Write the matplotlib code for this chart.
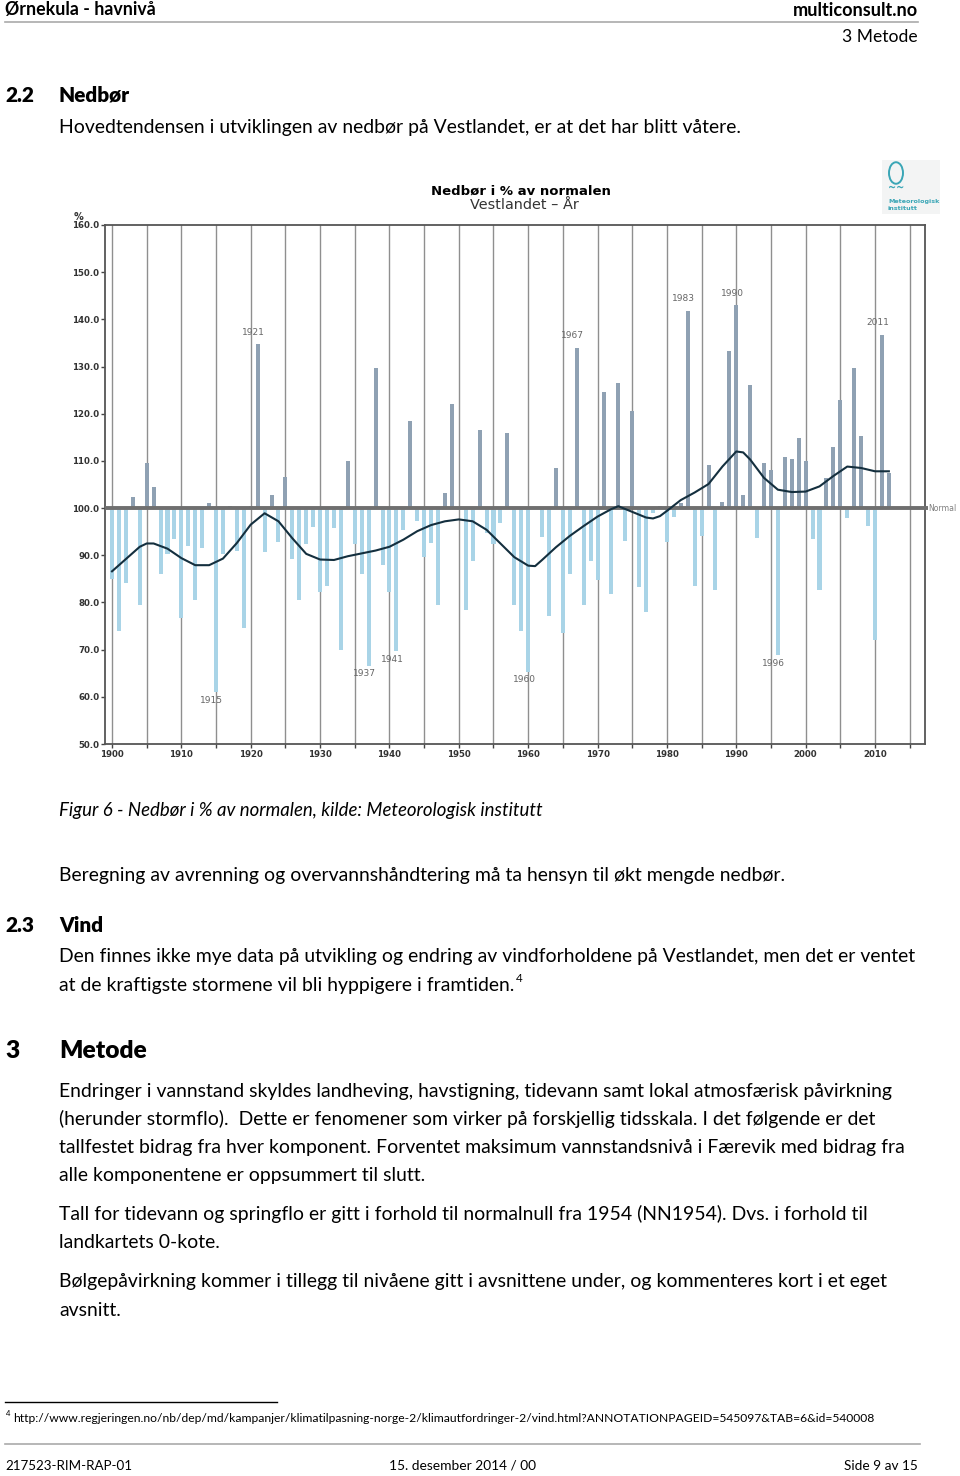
import matplotlib
matplotlib.use("Agg")
import matplotlib.pyplot as plt
from matplotlib.patches import Circle, Rectangle
from matplotlib.lines import Line2D

W, H = 960, 1476

# yearly precipitation, % of normal (Vestlandet)
years = list(range(1900, 2013))
precip = [
    85.0, 74.0, 84.2, 102.3, 79.5, 109.5, 104.5, 86.0, 90.2, 93.5,
    76.8, 92.0, 80.6, 91.6, 101.1, 61.0, 90.2, 100.4, 91.0, 74.6,
    100.4, 134.7, 90.6, 102.8, 92.8, 106.5, 89.3, 80.6, 92.3, 96.0,
    82.3, 83.5, 95.7, 70.0, 110.0, 92.3, 86.0, 66.6, 129.6, 88.0,
    82.3, 69.7, 95.3, 118.4, 97.2, 89.6, 92.5, 79.4, 103.3, 122.0,
    99.7, 78.4, 88.7, 116.6, 94.7, 92.4, 96.9, 116.0, 79.4, 73.9,
    65.3, 100.2, 93.9, 77.2, 108.6, 73.5, 86.0, 134.0, 79.4, 88.8,
    84.7, 124.5, 81.8, 126.6, 93.1, 120.6, 83.3, 78.0, 99.0, 100.5,
    92.9, 98.2, 101.0, 141.8, 83.5, 94.0, 109.1, 82.6, 101.3, 133.3,
    143.0, 102.7, 126.1, 93.6, 109.6, 108.0, 68.8, 110.8, 110.3, 114.8,
    110.0, 93.5, 82.6, 106.4, 113.0, 123.0, 97.8, 129.6, 115.3, 96.2,
    72.1, 136.7, 107.4,
]

# smoothed curve
trend_years = [1900, 1902, 1904, 1905, 1906, 1908, 1910, 1912, 1914, 1916,
               1918, 1920, 1922, 1924, 1926, 1928, 1930, 1932, 1934, 1936,
               1938, 1940, 1942, 1944, 1946, 1948, 1950, 1952, 1954, 1956,
               1958, 1960, 1961, 1962, 1964, 1966, 1968, 1970, 1972, 1973,
               1974, 1976, 1977, 1978, 1979, 1980, 1982, 1984, 1986, 1988,
               1990, 1991, 1992, 1994, 1996, 1998, 2000, 2002, 2004, 2006,
               2008, 2010, 2012]
trend_values = [86.6, 89.2, 91.8, 92.5, 92.5, 91.4, 89.4, 87.9, 87.9, 89.3,
                92.6, 96.5, 98.9, 97.2, 93.6, 90.3, 89.1, 89.0, 89.8, 90.4,
                91.0, 91.8, 93.3, 95.1, 96.4, 97.2, 97.6, 97.2, 95.4, 92.5,
                89.6, 87.8, 87.7, 89.0, 91.7, 94.1, 96.2, 98.2, 99.8, 100.4,
                99.8, 98.6, 98.0, 97.8, 98.3, 99.4, 101.7, 103.3, 105.1, 108.8,
                112.0, 111.8, 110.3, 106.4, 103.9, 103.4, 103.5, 104.6, 106.8, 108.8,
                108.5, 107.8, 107.8]

labelled_years = [1915, 1921, 1937, 1941, 1960, 1967, 1983, 1990, 1996, 2011]

y_ticks = list(range(50, 161, 10))
x_ticks = list(range(1900, 2016, 5))

fig = plt.figure(figsize=(9.6, 14.76), dpi=100)
fig.patch.set_facecolor('white')
renderer = fig.canvas.get_renderer()


def fx(x):
    return x / W


def fy(y):
    return 1 - y / H


def put(x, y, s, size=12, ha='left', weight='normal', style='normal',
        family='Lato', color='black', width=None):
    t = fig.text(fx(x), fy(y), s, ha=ha, va='center', fontsize=size,
                 fontweight=weight, fontstyle=style, family=family, color=color)
    if width:
        w = t.get_window_extent(renderer).width
        t.set_fontsize(size * width / w)
    return t


def hline(x0, x1, y, color='#999999', lw=1.0):
    fig.add_artist(Line2D([fx(x0), fx(x1)], [fy(y), fy(y)], color=color, lw=lw))


# page header
put(5, 10, 'Ørnekula - havnivå', weight='bold', width=149)
put(918, 10, 'multiconsult.no', weight='bold', ha='right', width=124)
hline(5, 918, 22, color='#aaaaaa', lw=1.2)
put(918, 37, '3 Metode', ha='right', width=75)

# body text size from a reference line
ref = put(59, 957, 'Den finnes ikke mye data på utvikling og endring av vindforholdene på Vestlandet, men det er ventet', width=853)
body = ref.get_fontsize()

h2 = put(59, 95, 'Nedbør', weight='heavy', width=71).get_fontsize()
put(5, 95, '2.2', weight='heavy', size=h2)
put(59, 127, 'Hovedtendensen i utviklingen av nedbør på Vestlandet, er at det har blitt våtere.', size=body)

# ---- chart ----
ax = fig.add_axes([fx(105), fy(744), fx(925) - fx(105), (744 - 225) / H])
ax.set_xlim(1898.99, 2017.21)
ax.set_ylim(50, 160)

pos_col = '#8fa1b3'
neg_col = '#a9d4e7'
colors = [pos_col if v >= 100 else neg_col for v in precip]
ax.bar(years, [v - 100 for v in precip], bottom=100, width=0.58,
       color=colors, zorder=2)

ax.set_xticks(x_ticks)
ax.set_xticklabels([str(t) if t % 10 == 0 else '' for t in x_ticks])
ax.xaxis.grid(True, color='#8f8f8f', lw=1.0, zorder=1)
ax.set_axisbelow(True)
ax.set_yticks(y_ticks)
ax.set_yticklabels(['%.1f' % t for t in y_ticks])
ax.tick_params(axis='both', direction='out', length=3, width=1,
               colors='#444444', labelsize=6.2, pad=1.5)
ax.tick_params(axis='y', pad=1)
for lab in ax.get_xticklabels() + ax.get_yticklabels():
    lab.set_fontweight('bold')
    lab.set_color('#333333')
for sp in ax.spines.values():
    sp.set_color('#555555')
    sp.set_linewidth(1.3)

# normal line
ax.plot([1898.99, 2017.6], [100, 100], color='#6f6f6f', lw=2.8,
        clip_on=False, zorder=3, solid_capstyle='butt')
ax.text(2017.65, 100, 'Normal', va='center', ha='left', fontsize=5.6,
        color='#808080')

ax.plot(trend_years, trend_values, color='#142f3e', lw=1.5, zorder=4)

for yr in labelled_years:
    v = precip[yr - 1900]
    dy = 8.6 if v > 100 else -5.8
    ax.annotate(str(yr), (yr, v), xytext=(-3, dy), textcoords='offset points',
                ha='center', va='center', fontsize=6.5, color='#666666')

put(79, 217, '%', size=7, family='DejaVu Sans', weight='bold', ha='center', color='#333333')
put(521, 191, 'Nedbør i % av normalen', family='DejaVu Sans', weight='bold',
    ha='center', width=178)
put(524, 205, 'Vestlandet – År', family='DejaVu Sans', ha='center',
    width=108, color='#333333')

# logo
fig.add_artist(Rectangle((fx(882), fy(214)), fx(58), 54 / H, color='#f3f4f4', lw=0))
fig.add_artist(Circle((fx(896), fy(173)), 7 / W, fill=False, edgecolor='#3aa6b6', lw=1.4))
put(896, 188, '~~', size=7, family='DejaVu Sans', weight='bold', ha='center', color='#3aa6b6')
put(888, 201, 'Meteorologisk', size=4.6, family='DejaVu Sans', weight='bold', color='#3aa6b6')
put(888, 208, 'institutt', size=4.6, family='DejaVu Sans', weight='bold', color='#3aa6b6')

# ---- text below chart ----
put(59, 810, 'Figur 6 - Nedbør i % av normalen, kilde: Meteorologisk institutt',
    style='italic', width=482)
put(59, 876, 'Beregning av avrenning og overvannshåndtering må ta hensyn til økt mengde nedbør.', size=body)

put(5, 925, '2.3', weight='heavy', size=h2)
put(59, 925, 'Vind', weight='heavy', size=h2)
put(59, 985, 'at de kraftigste stormene vil bli hyppigere i framtiden.', size=body)
put(516, 979, '4', size=body * 0.6)

h1 = put(59, 1051, 'Metode', weight='heavy', width=87).get_fontsize()
put(5, 1051, '3', weight='heavy', size=h1)

paras = [
    (1091, 'Endringer i vannstand skyldes landheving, havstigning, tidevann samt lokal atmosfærisk påvirkning'),
    (1119, '(herunder stormflo).  Dette er fenomener som virker på forskjellig tidsskala. I det følgende er det'),
    (1147, 'tallfestet bidrag fra hver komponent. Forventet maksimum vannstandsnivå i Færevik med bidrag fra'),
    (1175, 'alle komponentene er oppsummert til slutt.'),
    (1214, 'Tall for tidevann og springflo er gitt i forhold til normalnull fra 1954 (NN1954). Dvs. i forhold til'),
    (1242, 'landkartets 0-kote.'),
    (1282, 'Bølgepåvirkning kommer i tillegg til nivåene gitt i avsnittene under, og kommenteres kort i et eget'),
    (1310, 'avsnitt.'),
]
for y, s in paras:
    put(59, y, s, size=body)

# footnote
hline(5, 277, 1402, color='black', lw=1.0)
put(6, 1414, '4', size=5.5)
put(13, 1419, 'http://www.regjeringen.no/nb/dep/md/kampanjer/klimatilpasning-norge-2/klimautfordringer-2/vind.html?ANNOTATIONPAGEID=545097&TAB=6&id=540008',
    width=855)

# footer
hline(5, 920, 1444, color='#aaaaaa', lw=1.2)
put(5, 1466, '217523-RIM-RAP-01', width=126)
put(389, 1466, '15. desember 2014 / 00', width=147)
put(918, 1466, 'Side 9 av 15', ha='right', width=73)

fig.savefig('out.png', dpi=100)
